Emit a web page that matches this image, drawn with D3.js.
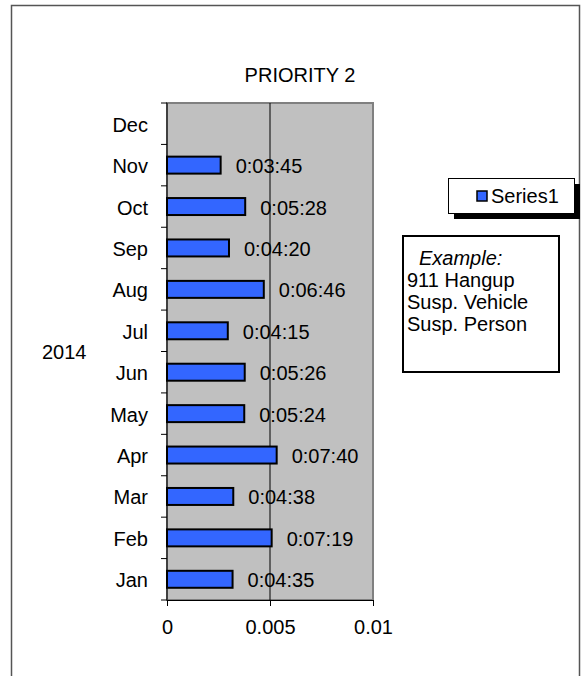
<!DOCTYPE html>
<html>
<head>
<meta charset="utf-8">
<script src="https://cdn.jsdelivr.net/npm/d3@7"></script>
<style>
  body { margin: 0; background: #fff; }
  svg { display: block; }
  text { font-family: "Liberation Sans", Arial, sans-serif; font-size: 20px; fill: #000; }
</style>
</head>
<body>
<svg width="582" height="676"></svg>
<script>
// data
var months = ["Jan", "Feb", "Mar", "Apr", "May", "Jun", "Jul", "Aug", "Sep", "Oct", "Nov", "Dec"];
var times = ["0:04:35", "0:07:19", "0:04:38", "0:07:40", "0:05:24", "0:05:26", "0:04:15", "0:06:46", "0:04:20", "0:05:28", "0:03:45", null];
var xTicks = [0, 0.005, 0.01];
var groupLabel = "2014";
var seriesName = "Series1";
var noteLines = ["911 Hangup", "Susp. Vehicle", "Susp. Person"];

var svg = d3.select("svg");
var width = +svg.attr("width");
var height = +svg.attr("height");

var margin = { top: 103, right: 209, bottom: 76, left: 167 };
var innerWidth = width - margin.left - margin.right;
var innerHeight = height - margin.top - margin.bottom;

// h:mm:ss -> fraction of a day (how the spreadsheet stores it)
const toDays = (t) => {
  var p = t.split(":").map(Number);
  return (p[0] * 3600 + p[1] * 60 + p[2]) / 86400;
};

var data = months.map((m, i) => ({ month: m, label: times[i], value: times[i] ? toDays(times[i]) : null }));

// outer chart border (runs off the bottom of the picture)
svg.append("path")
  .attr("d", `M11.5,${height} V5.5 H579.5 V${height}`)
  .attr("fill", "none").attr("stroke", "#555").attr("stroke-width", 1.5);

svg.append("text")
  .attr("x", 300).attr("y", 82)
  .attr("text-anchor", "middle")
  .text("PRIORITY 2");

const xScale = d3.scaleLinear().domain([0, 0.01]).range([0, innerWidth]);
const yScale = d3.scaleBand().domain(months).range([innerHeight, 0]).padding(0);
const barH = yScale.bandwidth() * 0.41;

const g = svg.append("g").attr("transform", `translate(${margin.left}, ${margin.top})`);

g.append("rect")
  .attr("width", innerWidth).attr("height", innerHeight)
  .attr("fill", "#c0c0c0").attr("stroke", "#808080").attr("stroke-width", 2);

// gridlines
g.selectAll(".grid")
  .data(xTicks.slice(1, -1))
  .enter().append("line")
  .attr("x1", (d) => xScale(d)).attr("x2", (d) => xScale(d))
  .attr("y1", 0).attr("y2", innerHeight)
  .attr("stroke", "#000");

// category axis: labels centered, ticks on band boundaries
const yAxis = g.append("g").call(d3.axisLeft(yScale).tickSize(0).tickPadding(19));
yAxis.select(".domain").remove();
yAxis.selectAll("text").attr("dy", "0.4em");

var bounds = months.map((m) => yScale(m)).concat([innerHeight]);
g.selectAll(".ytick")
  .data(bounds)
  .enter().append("line")
  .attr("x1", -6).attr("x2", 0)
  .attr("y1", (d) => d).attr("y2", (d) => d)
  .attr("stroke", "#000");
g.append("line")
  .attr("x1", 0).attr("x2", 0).attr("y1", 0).attr("y2", innerHeight)
  .attr("stroke", "#000");

svg.append("text")
  .attr("x", 42).attr("y", (margin.top + margin.top + innerHeight) / 2 + 7)
  .text(groupLabel);

// value axis
const xAxis = g.append("g")
  .attr("transform", `translate(0, ${innerHeight})`)
  .call(d3.axisBottom(xScale).tickValues(xTicks).tickSize(6).tickPadding(14).tickFormat(d3.format("")));
xAxis.select(".domain").attr("stroke", "#000");
xAxis.selectAll("text").style("font-size", "20px").style("font-family", '"Liberation Sans", Arial, sans-serif');
yAxis.selectAll("text").style("font-size", "20px").style("font-family", '"Liberation Sans", Arial, sans-serif');

var shown = data.filter((d) => d.value != null);

g.selectAll(".bar")
  .data(shown)
  .enter().append("rect")
  .attr("class", "bar")
  .attr("x", 0)
  .attr("y", (d) => yScale(d.month) + (yScale.bandwidth() - barH) / 2)
  .attr("width", (d) => xScale(d.value))
  .attr("height", barH)
  .attr("fill", "#3366ff")
  .attr("stroke", "#000")
  .attr("stroke-width", 2);

g.selectAll(".lbl")
  .data(shown)
  .enter().append("text")
  .attr("x", (d) => xScale(d.value) + 15)
  .attr("y", (d) => yScale(d.month) + yScale.bandwidth() / 2 + 8)
  .text((d) => d.label);

// legend with drop shadow
var leg = svg.append("g").attr("transform", "translate(448, 178)");
leg.append("rect").attr("x", 6).attr("y", 6).attr("width", 126).attr("height", 35).attr("fill", "#000");
leg.append("rect").attr("x", 0.5).attr("y", 0.5).attr("width", 126).attr("height", 35)
  .attr("fill", "#fff").attr("stroke", "#000");
leg.append("rect").attr("x", 29).attr("y", 13).attr("width", 10).attr("height", 10)
  .attr("fill", "#3366ff").attr("stroke", "#000").attr("stroke-width", 1.5);
leg.append("text").attr("x", 43).attr("y", 25).text(seriesName);

// note box
var note = svg.append("g").attr("transform", "translate(403, 236)");
note.append("rect").attr("width", 156).attr("height", 136)
  .attr("fill", "#fff").attr("stroke", "#000").attr("stroke-width", 2);
note.append("text").attr("x", 16).attr("y", 29).style("font-style", "italic").text("Example:");
note.selectAll(".ln")
  .data(noteLines)
  .enter().append("text")
  .attr("x", 4)
  .attr("y", (d, i) => 51 + i * 22)
  .text((d) => d);
</script>
</body>
</html>
